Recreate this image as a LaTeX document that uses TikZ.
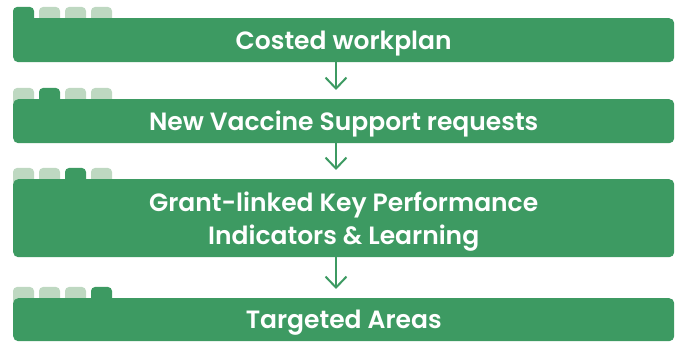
\documentclass[tikz,border=0pt]{standalone}
\usepackage{fontspec}
\newfontfamily\stagefont{Poppins SemiBold}
\usetikzlibrary{arrows.meta}
\definecolor{planGreen}{HTML}{3D9A62}
\definecolor{tabGreen}{HTML}{BED8C1}

\begin{document}
\begin{tikzpicture}[x=1pt,y=1pt,
    stagebox/.style={fill=planGreen, rounded corners=5pt, anchor=north west,
      minimum width=661pt, inner sep=0pt, text depth=0pt, text=white,
      align=center, font=\stagefont\fontsize{25}{33}\selectfont},
    flow/.style={draw=planGreen, line width=2pt, shorten >=9pt,
      -{Straight Barb[length=11pt,width=21pt,line width=2pt]}}]
    \useasboundingbox (0,0) rectangle (680,342);
    %% Tabs (the dark one marks the current stage)
    \foreach \top/\active in {324/0,243/1,163/2,44/3}
    {
    \foreach \i in {0,...,3}
    {
    \def\tabcol{tabGreen}
    \ifnum\i=\active \def\tabcol{planGreen}\fi
    \fill[\tabcol, rounded corners=4pt]
    (13+26*\i,\top-8) rectangle (34+26*\i,\top+11)
    ;
    }
    }
    %% Stages
    \node[stagebox, minimum height=44pt] (costed) at (13,324) {Costed workplan};
    \node[stagebox, minimum height=44pt] (nvs) at (13,243) {New Vaccine Support requests};
    \node[stagebox, minimum height=78pt] (kpi) at (13,163)
      {Grant-linked Key Performance\\Indicators \& Learning};
    \node[stagebox, minimum height=43pt] (areas) at (13,44) {Targeted Areas};
    %% Arrows between stages
    \coordinate (axis) at (336,0);
    \draw[flow] (costed.south -| axis) -- (nvs.north -| axis);
    \draw[flow] (nvs.south -| axis) -- (kpi.north -| axis);
    \draw[flow] (kpi.south -| axis) -- (areas.north -| axis);
\end{tikzpicture}
\end{document}
